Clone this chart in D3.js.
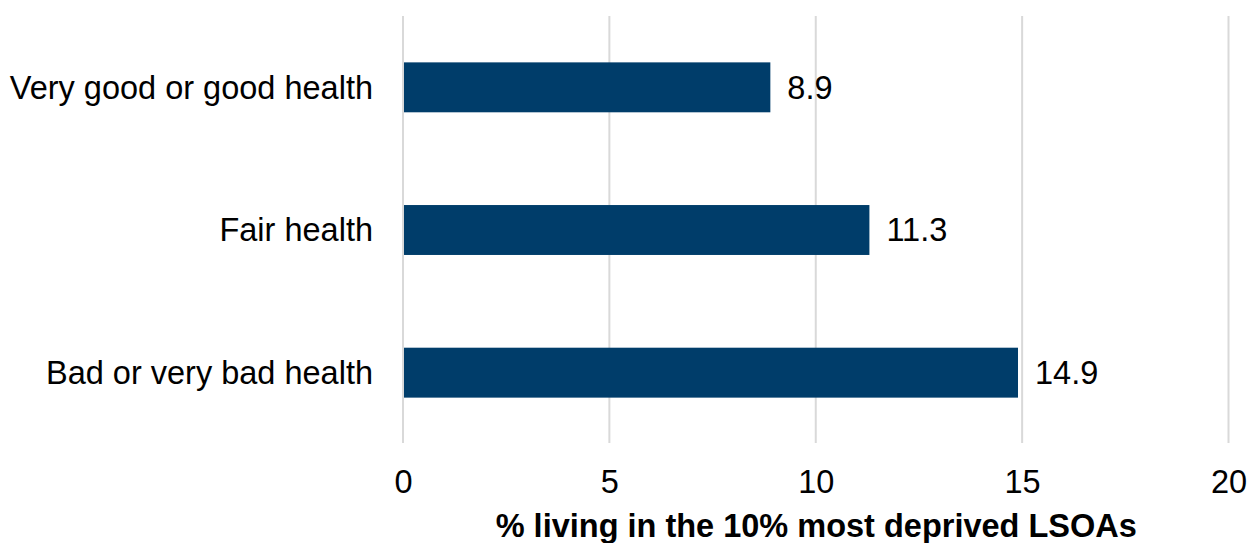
<!DOCTYPE html>
<html>
<head>
<meta charset="utf-8">
<script src="https://cdn.jsdelivr.net/npm/d3@7"></script>
<style>
  html, body { margin: 0; padding: 0; background: #fff; }
  svg { display: block; font-family: "Liberation Sans", Arial, sans-serif; }
</style>
</head>
<body>
<svg id="chart" width="1248" height="543"></svg>
<script>
// Share of people living in the 10% most deprived LSOAs, by general health
const categories = ["Very good or good health", "Fair health", "Bad or very bad health"];
const values = [8.9, 11.3, 14.9];
const xTicks = [0, 5, 10, 15, 20];
const xTitle = "% living in the 10% most deprived LSOAs";

const svg = d3.select("#chart");
const plot = { left: 403, right: 1228.5, top: 16, bottom: 444 };
const fontSize = 32.5;

const x = d3.scaleLinear().domain([0, 20]).range([plot.left, plot.right]);
const y = d3.scaleBand().domain(categories).range([plot.top, plot.bottom])
  .paddingInner(0.65).paddingOuter(0.325);

// vertical gridlines
svg.append("g").selectAll("line").data(xTicks).join("line")
  .attr("x1", d => x(d)).attr("x2", d => x(d))
  .attr("y1", plot.top).attr("y2", plot.bottom - 1)
  .attr("stroke", "#d9d9d9").attr("stroke-width", 2);

// x axis tick labels
const xAxis = d3.axisBottom(x).tickValues(xTicks).tickSize(0).tickPadding(0);
const gx = svg.append("g").attr("transform", `translate(0,${plot.bottom})`).call(xAxis);
gx.select(".domain").remove();
gx.selectAll("text").attr("font-size", fontSize).attr("fill", "#000")
  .attr("font-family", "Liberation Sans, Arial, sans-serif")
  .attr("dy", null).attr("y", 49);

// y axis category labels
const yAxis = d3.axisLeft(y).tickSize(0).tickPadding(0);
const gy = svg.append("g").attr("transform", `translate(373,0)`).call(yAxis);
gy.select(".domain").remove();
gy.selectAll("text").attr("font-size", fontSize).attr("fill", "#000")
  .attr("font-family", "Liberation Sans, Arial, sans-serif")
  .attr("dy", "0.35em");

// bars
svg.append("g").selectAll("rect").data(values).join("rect")
  .attr("x", x(0) + 1)
  .attr("y", (d, i) => y(categories[i]))
  .attr("width", d => x(d) - x(0) - 1)
  .attr("height", y.bandwidth())
  .attr("fill", "#003d6a");

// value labels
svg.append("g").selectAll("text").data(values).join("text")
  .attr("x", d => x(d) + 17)
  .attr("y", (d, i) => y(categories[i]) + y.bandwidth() / 2)
  .attr("dy", "0.35em")
  .attr("font-size", fontSize).attr("fill", "#000")
  .text(d => d.toFixed(1));

// axis title
svg.append("text")
  .attr("x", (plot.left + plot.right) / 2 + 0.5)
  .attr("y", 537)
  .attr("text-anchor", "middle")
  .attr("font-size", fontSize).attr("font-weight", "bold").attr("fill", "#000")
  .text(xTitle);
</script>
</body>
</html>
